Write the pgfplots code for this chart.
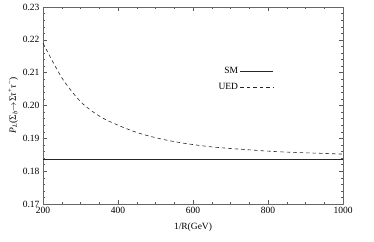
\documentclass[border=0pt]{standalone}
\usepackage{pgfplots}
\pgfplotsset{compat=1.18}
\usepackage{fontspec}
\setmainfont{Liberation Serif}
\begin{document}
\begin{tikzpicture}
\path[use as bounding box] (-43pt,-37pt) rectangle (331pt,204pt);
\begin{axis}[
  at={(0pt,0pt)}, anchor=south west,
  scale only axis, width=300pt, height=197pt,
  xmin=200, xmax=1000, ymin=0.17, ymax=0.23,
  xtick={200,400,...,1000},
  ytick={0.17,0.18,...,0.23},
  xticklabel style={/pgf/number format/.cd,1000 sep={}},
  yticklabel style={/pgf/number format/.cd,fixed,fixed zerofill,precision=2},
  minor x tick num=3, minor y tick num=4,
  tick align=inside,
  axis line style={gray!80!black, line width=0.5pt},
  major tick length=4pt, minor tick length=2pt,
  every tick/.style={gray!70!black, line width=0.4pt},
  /pgf/number format/assume math mode=true,
  tick label style={font=\fontsize{9.5}{10}\selectfont},
  label style={font=\fontsize{9.5}{10}\selectfont},
  xlabel={1/R(GeV)},
  ylabel={\textit{P}\textsubscript{\textit{L}}(Σ\textsubscript{\textit{b}}$\to$Σ\textit{τ}\textsuperscript{+}\textit{τ}\textsuperscript{−})},
  xlabel style={yshift=-2pt},
  ylabel style={yshift=-2pt},
  legend style={draw=none, fill=none, at={(0.78,0.715)}, anchor=north east,
    font=\fontsize{9.5}{10}\selectfont, row sep=4pt},
  legend cell align=right,
  legend plot pos=right,
  legend image code/.code={\draw[#1] (0pt,0pt) -- (33pt,0pt);},
]
\addplot[gray!30!black, line width=0.7pt] coordinates {(200,0.1836) (1000,0.1836)};
\addlegendentry{SM}
\addplot[gray!30!black, line width=0.6pt, dash pattern=on 3.5pt off 3pt, smooth] coordinates {
(200,0.2190) (250,0.2085) (300,0.2012) (350,0.1968) (400,0.1940) (450,0.1918)
(500,0.1902) (550,0.1890) (600,0.1881) (650,0.1874) (700,0.1869) (750,0.1865)
(800,0.1861) (850,0.1858) (900,0.1856) (950,0.1854) (1000,0.1852)};
\addlegendentry{UED}
\end{axis}
\end{tikzpicture}
\end{document}
